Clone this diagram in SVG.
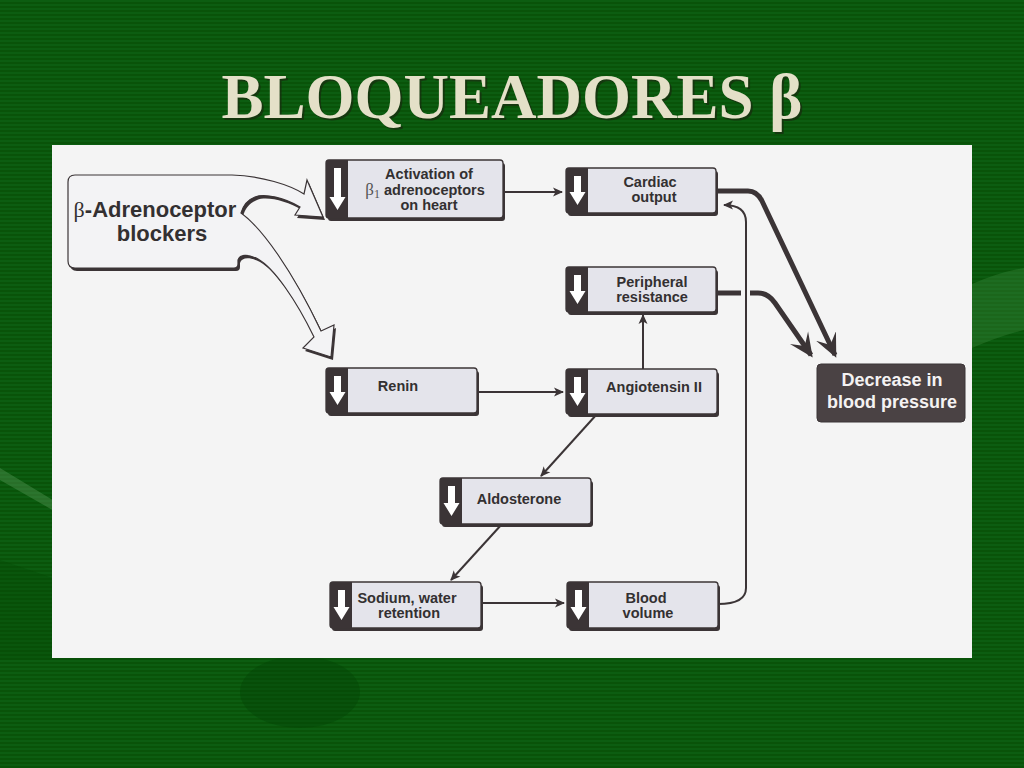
<svg xmlns="http://www.w3.org/2000/svg" width="1024" height="768" viewBox="0 0 1024 768">
<defs>
<pattern id="stripes" width="8" height="4" patternUnits="userSpaceOnUse">
<rect width="8" height="4" fill="#0c5d11"/>
<rect y="2" width="8" height="2" fill="#095309"/>
</pattern>
<marker id="ah" viewBox="0 0 10 10" refX="9" refY="5" markerWidth="10" markerHeight="10" markerUnits="userSpaceOnUse" orient="auto">
<path d="M0,0.5 L10,5 L0,9.5 L2.5,5 Z" fill="#3b3436"/>
</marker>
<marker id="bigah" viewBox="0 0 24 24" refX="21" refY="12" markerWidth="24" markerHeight="24" markerUnits="userSpaceOnUse" orient="auto">
<path d="M0,1 L24,12 L0,23 L10,12 Z" fill="#3b3436"/>
</marker>
</defs>
<style>
.sh{fill:#3b3436}
.box{fill:#e4e4eb;stroke:#3b3436;stroke-width:1.3}
.strip{fill:#3b3436}
.arw{fill:#ffffff}
.t{font-family:"Liberation Sans",Arial,sans-serif;font-weight:bold;font-size:14.5px;fill:#333031;text-anchor:middle}
.thin{fill:none;stroke:#3b3436;stroke-width:2;marker-end:url(#ah)}
.thick{fill:none;stroke:#3b3436;stroke-width:5;marker-end:url(#bigah)}
</style>

<!-- slide background -->
<rect width="1024" height="768" fill="url(#stripes)"/>
<path d="M0,560 Q150,610 260,660 L0,660 Z" fill="#034404" opacity="0.3"/>
<path d="M0,468 Q28,485 56,502 L56,512 Q28,496 0,480 Z" fill="#5a9a5a" opacity="0.4"/>
<ellipse cx="300" cy="692" rx="60" ry="36" fill="#034404" opacity="0.4"/>
<path d="M972,284 Q1000,272 1024,268 L1024,330 Q1000,336 972,348 Z" fill="#3f8a3f" opacity="0.35"/>

<!-- title -->
<text x="514" y="120" font-family="'Liberation Serif','Times New Roman',serif" font-weight="bold" font-size="63" fill="#1a2a10" text-anchor="middle" opacity="0.7">BLOQUEADORES β</text>
<text x="512" y="118" font-family="'Liberation Serif','Times New Roman',serif" font-weight="bold" font-size="63" fill="#e4e0c8" text-anchor="middle">BLOQUEADORES β</text>

<!-- panel -->
<rect x="52" y="145" width="920" height="513" fill="#f4f4f4"/>

<!-- source node -->
<g id="blockers">
<path transform="translate(2,3)" class="sh" d="M75,175 L232,175 C262,176 290,185 304,194 L307,180 L323,217 L295,215 L300,207 C285,198 265,193 255,197 C247,200 243,206 241,213 C262,228 292,270 321,331 L334,325 L331,357 L303,348 L314,337 C296,300 274,268 258,259 C248,254 240,254 238,260 L238,264 Q238,268 234,268 L75,268 Q68,268 68,261 L68,182 Q68,175 75,175 Z"/>
<path fill="#f3f3f5" stroke="#3b3436" stroke-width="1.2" d="M75,175 L232,175 C262,176 290,185 304,194 L307,180 L323,217 L295,215 L300,207 C285,198 265,193 255,197 C247,200 243,206 241,213 C262,228 292,270 321,331 L334,325 L331,357 L303,348 L314,337 C296,300 274,268 258,259 C248,254 240,254 238,260 L238,264 Q238,268 234,268 L75,268 Q68,268 68,261 L68,182 Q68,175 75,175 Z"/>
<text font-family="'Liberation Sans',Arial,sans-serif" font-weight="bold" font-size="22" fill="#333031" text-anchor="middle"><tspan x="155" y="217"><tspan font-family="'Liberation Serif','Times New Roman',serif" font-weight="normal">β</tspan>-Adrenoceptor</tspan><tspan x="162" y="241">blockers</tspan></text>
</g>

<!-- connectors -->
<g id="connectors">
<path class="thick" d="M716,191 H748 Q757,191 762,201 L835,355"/>
<path class="thick" d="M716,293 H758 Q768,293 775,303 L811,355"/>
<rect x="741" y="288" width="9" height="10" fill="#f4f4f4"/>
<path class="thin" d="M718,604 Q746,604 746,588 L746,222 Q746,205 724,205"/>
<path class="thin" d="M503,192 H562"/>
<path class="thin" d="M477,392 H563"/>
<path class="thin" d="M481,603 H564"/>
<path class="thin" d="M643,369 V315"/>
<path class="thin" d="M597,414 L541,476"/>
<path class="thin" d="M502,524 L451,580"/>
</g>

<g id="activation">
<rect class="sh" x="328" y="163" width="177" height="58" rx="3"/>
<rect class="box" x="326" y="160" width="177" height="58" rx="3"/>
<path class="strip" d="M348,160 H329 Q326,160 326,163 V215 Q326,218 329,218 H348 Z"/>
<path class="arw" d="M334,168 H341 V197 H345.5 L337.5,210 L329.5,197 H334 Z"/>
<text class="t" x="429" y="179">Activation of</text>
<text class="t" x="425" y="195"><tspan font-family="'Liberation Serif','Times New Roman',serif" font-weight="normal" font-size="17" fill="#555">β<tspan font-size="12" dy="3">1</tspan></tspan><tspan dy="-3"> adrenoceptors</tspan></text>
<text class="t" x="429" y="210">on heart</text>
</g>

<g id="cardiac">
<rect class="sh" x="568" y="171" width="150" height="45" rx="3"/>
<rect class="box" x="566" y="168" width="150" height="45" rx="3"/>
<path class="strip" d="M588,168 H569 Q566,168 566,171 V210 Q566,213 569,213 H588 Z"/>
<path class="arw" d="M574,176 H581 V192 H585.5 L577.5,205 L569.5,192 H574 Z"/>
<text class="t" x="650" y="187">Cardiac</text>
<text class="t" x="654" y="202">output</text>
</g>

<g id="peripheral">
<rect class="sh" x="568" y="270" width="150" height="45" rx="3"/>
<rect class="box" x="566" y="267" width="150" height="45" rx="3"/>
<path class="strip" d="M588,267 H569 Q566,267 566,270 V309 Q566,312 569,312 H588 Z"/>
<path class="arw" d="M574,275 H581 V291 H585.5 L577.5,304 L569.5,291 H574 Z"/>
<text class="t" x="652" y="287">Peripheral</text>
<text class="t" x="652" y="302">resistance</text>
</g>

<g id="renin">
<rect class="sh" x="328" y="371" width="151" height="45" rx="3"/>
<rect class="box" x="326" y="368" width="151" height="45" rx="3"/>
<path class="strip" d="M348,368 H329 Q326,368 326,371 V410 Q326,413 329,413 H348 Z"/>
<path class="arw" d="M334,376 H341 V392 H345.5 L337.5,405 L329.5,392 H334 Z"/>
<text class="t" x="398" y="391">Renin</text>
</g>

<g id="angiotensin">
<rect class="sh" x="568" y="372" width="151" height="45" rx="3"/>
<rect class="box" x="566" y="369" width="151" height="45" rx="3"/>
<path class="strip" d="M588,369 H569 Q566,369 566,372 V411 Q566,414 569,414 H588 Z"/>
<path class="arw" d="M574,377 H581 V393 H585.5 L577.5,406 L569.5,393 H574 Z"/>
<text class="t" x="654" y="392">Angiotensin II</text>
</g>

<g id="aldosterone">
<rect class="sh" x="442" y="481" width="151" height="46" rx="3"/>
<rect class="box" x="440" y="478" width="151" height="46" rx="3"/>
<path class="strip" d="M462,478 H443 Q440,478 440,481 V521 Q440,524 443,524 H462 Z"/>
<path class="arw" d="M448,486 H455 V503 H459.5 L451.5,516 L443.5,503 H448 Z"/>
<text class="t" x="519" y="504">Aldosterone</text>
</g>

<g id="sodium">
<rect class="sh" x="332" y="585" width="151" height="46" rx="3"/>
<rect class="box" x="330" y="582" width="151" height="46" rx="3"/>
<path class="strip" d="M352,582 H333 Q330,582 330,585 V625 Q330,628 333,628 H352 Z"/>
<path class="arw" d="M338,590 H345 V607 H349.5 L341.5,620 L333.5,607 H338 Z"/>
<text class="t" x="407" y="603">Sodium, water</text>
<text class="t" x="409" y="618">retention</text>
</g>

<g id="blood">
<rect class="sh" x="569" y="585" width="151" height="46" rx="3"/>
<rect class="box" x="567" y="582" width="151" height="46" rx="3"/>
<path class="strip" d="M589,582 H570 Q567,582 567,585 V625 Q567,628 570,628 H589 Z"/>
<path class="arw" d="M575,590 H582 V607 H586.5 L578.5,620 L570.5,607 H575 Z"/>
<text class="t" x="646" y="603">Blood</text>
<text class="t" x="648" y="618">volume</text>
</g>

<g id="decrease">
<rect x="817" y="364" width="148" height="58" rx="4" fill="#4a4244" stroke="#3b3436" stroke-width="1"/>
<text font-family="'Liberation Sans',Arial,sans-serif" font-weight="bold" font-size="18" fill="#f4f2f2" text-anchor="middle"><tspan x="892" y="386">Decrease in</tspan><tspan x="892" y="408">blood pressure</tspan></text>
</g>
</svg>
